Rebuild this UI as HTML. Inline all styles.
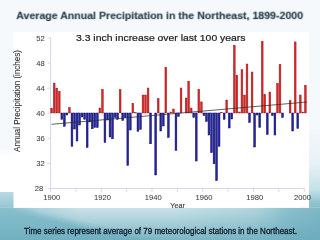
<!DOCTYPE html>
<html><head><meta charset="utf-8"><style>
html,body{margin:0;padding:0;}
body{width:320px;height:240px;overflow:hidden;position:relative;background:#f6f9fb;font-family:"Liberation Sans",sans-serif;}
svg{position:absolute;left:0;top:0;}
#wrap{position:absolute;left:0;top:0;width:320px;height:240px;will-change:transform;}
.r{fill:#da2626;stroke:#9e1616;stroke-width:0.45;}
.b{fill:#2424a4;stroke:#0c0c66;stroke-width:0.5;}
</style></head><body>
<div id="wrap">
<svg width="320" height="240" viewBox="0 0 320 240">
<defs>
<linearGradient id="gbase" x1="0" y1="207.8" x2="0" y2="240" gradientUnits="userSpaceOnUse">
<stop offset="0" stop-color="#88bfcc"/>
<stop offset="1" stop-color="#71b0c0"/>
</linearGradient>
<linearGradient id="ghl" x1="0" y1="207.8" x2="0" y2="240" gradientUnits="userSpaceOnUse">
<stop offset="0" stop-color="#ffffff" stop-opacity="0.55"/>
<stop offset="0.45" stop-color="#ffffff" stop-opacity="0.33"/>
<stop offset="1" stop-color="#ffffff" stop-opacity="0.08"/>
</linearGradient>
<linearGradient id="ghm" x1="0" y1="0" x2="320" y2="0" gradientUnits="userSpaceOnUse">
<stop offset="0" stop-color="#fff" stop-opacity="0"/>
<stop offset="0.04" stop-color="#fff" stop-opacity="0.2"/>
<stop offset="0.12" stop-color="#fff" stop-opacity="0.6"/>
<stop offset="0.25" stop-color="#fff" stop-opacity="1"/>
<stop offset="0.55" stop-color="#fff" stop-opacity="1"/>
<stop offset="0.79" stop-color="#fff" stop-opacity="0.65"/>
<stop offset="0.9" stop-color="#fff" stop-opacity="0.12"/>
<stop offset="1" stop-color="#fff" stop-opacity="0"/>
</linearGradient>
<linearGradient id="gmd" x1="42.6" y1="219.4" x2="44.4" y2="211.6" gradientUnits="userSpaceOnUse">
<stop offset="0" stop-color="#fff" stop-opacity="0"/>
<stop offset="1" stop-color="#fff" stop-opacity="1"/>
</linearGradient>
<mask id="mdiag" maskUnits="userSpaceOnUse" x="0" y="200" width="320" height="40">
<rect x="0" y="200" width="320" height="40" fill="url(#gmd)"/>
</mask>
<mask id="mhl" maskUnits="userSpaceOnUse" x="0" y="200" width="320" height="40">
<rect x="0" y="200" width="320" height="40" fill="url(#ghm)"/>
</mask>
<linearGradient id="gdark" x1="0" y1="0" x2="320" y2="0" gradientUnits="userSpaceOnUse">
<stop offset="0" stop-color="#3d8aa3" stop-opacity="0.0"/>
<stop offset="0.85" stop-color="#3d8aa3" stop-opacity="0"/>
<stop offset="1" stop-color="#3d8aa3" stop-opacity="0.12"/>
</linearGradient>
<linearGradient id="gright" x1="0" y1="130" x2="0" y2="207.8" gradientUnits="userSpaceOnUse">
<stop offset="0" stop-color="#f2f8fa"/>
<stop offset="0.42" stop-color="#e8f3f7"/>
<stop offset="0.76" stop-color="#c5e2e9"/>
<stop offset="0.94" stop-color="#8ec2cf"/>
<stop offset="1" stop-color="#88bfcc"/>
</linearGradient>
<linearGradient id="gleft" x1="0" y1="192" x2="0" y2="207.8" gradientUnits="userSpaceOnUse">
<stop offset="0" stop-color="#b9dbe3"/>
<stop offset="0.75" stop-color="#9ecbd6"/>
<stop offset="1" stop-color="#93c5d1"/>
</linearGradient>
<linearGradient id="gwhite" x1="0" y1="148" x2="0" y2="156" gradientUnits="userSpaceOnUse">
<stop offset="0" stop-color="#fff" stop-opacity="0"/>
<stop offset="1" stop-color="#fff" stop-opacity="1"/>
</linearGradient>
</defs>
<rect x="0" y="0" width="320" height="240" fill="#f6f9fb"/>
<rect x="0" y="148" width="14" height="44" fill="url(#gwhite)"/>
<rect x="300" y="130" width="20" height="77.8" fill="url(#gright)"/>
<rect x="0" y="192" width="14" height="15.8" fill="url(#gleft)"/>
<rect x="0" y="207.8" width="320" height="32.2" fill="url(#gbase)"/>
<g mask="url(#mdiag)"><rect x="0" y="207.8" width="320" height="32.2" fill="url(#ghl)" mask="url(#mhl)"/></g>
<rect x="0" y="207.8" width="320" height="32.2" fill="url(#gdark)"/>
<rect x="13.5" y="32" width="295.5" height="175.8" fill="#ffffff"/>
<g style="will-change:transform">
<text transform="translate(16.3,19.1) scale(1,0.93)" font-weight="bold" font-size="10.6" fill="#233b48" stroke="#233b48" stroke-width="0.12">Average Annual Precipitation in the Northeast, 1899-2000</text>
</g>
<g stroke="#d8d8ec" stroke-width="1">
<line x1="50.5" y1="38" x2="50.5" y2="188.5"/>
<line x1="50.5" y1="188.5" x2="304.5" y2="188.5"/>
<line x1="47.5" y1="188.50" x2="50.5" y2="188.50"/><line x1="47.5" y1="163.42" x2="50.5" y2="163.42"/><line x1="47.5" y1="138.34" x2="50.5" y2="138.34"/><line x1="47.5" y1="113.26" x2="50.5" y2="113.26"/><line x1="47.5" y1="88.18" x2="50.5" y2="88.18"/><line x1="47.5" y1="63.10" x2="50.5" y2="63.10"/><line x1="47.5" y1="38.02" x2="50.5" y2="38.02"/><line x1="50.50" y1="187.5" x2="50.50" y2="192"/><line x1="75.87" y1="187.5" x2="75.87" y2="192"/><line x1="101.24" y1="187.5" x2="101.24" y2="192"/><line x1="126.61" y1="187.5" x2="126.61" y2="192"/><line x1="151.98" y1="187.5" x2="151.98" y2="192"/><line x1="177.35" y1="187.5" x2="177.35" y2="192"/><line x1="202.72" y1="187.5" x2="202.72" y2="192"/><line x1="228.09" y1="187.5" x2="228.09" y2="192"/><line x1="253.46" y1="187.5" x2="253.46" y2="192"/><line x1="278.83" y1="187.5" x2="278.83" y2="192"/><line x1="304.20" y1="187.5" x2="304.20" y2="192"/>
</g>
<rect class="r" x="50.78" y="108.50" width="1.75" height="4.50"/>
<rect class="r" x="53.32" y="83.10" width="1.75" height="29.90"/>
<rect class="r" x="55.85" y="88.10" width="1.75" height="24.90"/>
<rect class="r" x="58.39" y="91.25" width="1.75" height="21.75"/>
<rect class="b" x="60.93" y="113.00" width="1.75" height="6.40"/>
<rect class="b" x="63.47" y="113.00" width="1.75" height="13.25"/>
<rect class="b" x="66.00" y="113.00" width="1.75" height="2.00"/>
<rect class="r" x="68.54" y="107.50" width="1.75" height="5.50"/>
<rect class="b" x="71.08" y="113.00" width="1.75" height="33.25"/>
<rect class="b" x="73.61" y="113.00" width="1.75" height="16.00"/>
<rect class="b" x="76.15" y="113.00" width="1.75" height="28.00"/>
<rect class="b" x="78.69" y="113.00" width="1.75" height="12.00"/>
<rect class="b" x="81.22" y="113.00" width="1.75" height="4.00"/>
<rect class="b" x="83.76" y="113.00" width="1.75" height="6.40"/>
<rect class="b" x="86.30" y="113.00" width="1.75" height="34.50"/>
<rect class="b" x="88.84" y="113.00" width="1.75" height="9.00"/>
<rect class="b" x="91.37" y="113.00" width="1.75" height="15.75"/>
<rect class="b" x="93.91" y="113.00" width="1.75" height="14.50"/>
<rect class="b" x="96.45" y="113.00" width="1.75" height="14.50"/>
<rect class="r" x="98.98" y="108.00" width="1.75" height="5.00"/>
<rect class="r" x="101.52" y="89.25" width="1.75" height="23.75"/>
<rect class="b" x="104.06" y="113.00" width="1.75" height="29.50"/>
<rect class="b" x="106.59" y="113.00" width="1.75" height="7.00"/>
<rect class="b" x="109.13" y="113.00" width="1.75" height="24.00"/>
<rect class="b" x="111.67" y="113.00" width="1.75" height="25.75"/>
<rect class="b" x="114.20" y="113.00" width="1.75" height="4.50"/>
<rect class="b" x="116.74" y="113.00" width="1.75" height="6.40"/>
<rect class="r" x="119.28" y="89.50" width="1.75" height="23.50"/>
<rect class="b" x="121.82" y="113.00" width="1.75" height="7.60"/>
<rect class="b" x="124.35" y="113.00" width="1.75" height="4.50"/>
<rect class="b" x="126.89" y="113.00" width="1.75" height="52.50"/>
<rect class="b" x="129.43" y="113.00" width="1.75" height="17.00"/>
<rect class="r" x="131.96" y="103.50" width="1.75" height="9.50"/>
<rect class="r" x="134.50" y="112.50" width="1.75" height="0.50"/>
<rect class="b" x="137.04" y="113.00" width="1.75" height="18.25"/>
<rect class="b" x="139.58" y="113.00" width="1.75" height="16.40"/>
<rect class="r" x="142.11" y="95.00" width="1.75" height="18.00"/>
<rect class="r" x="144.65" y="95.00" width="1.75" height="18.00"/>
<rect class="r" x="147.19" y="88.00" width="1.75" height="25.00"/>
<rect class="b" x="149.72" y="113.00" width="1.75" height="30.75"/>
<rect class="b" x="154.80" y="113.00" width="1.75" height="62.00"/>
<rect class="r" x="157.33" y="98.50" width="1.75" height="14.50"/>
<rect class="b" x="159.87" y="113.00" width="1.75" height="18.00"/>
<rect class="b" x="162.41" y="113.00" width="1.75" height="13.00"/>
<rect class="r" x="164.94" y="67.25" width="1.75" height="45.75"/>
<rect class="b" x="167.48" y="113.00" width="1.75" height="24.50"/>
<rect class="r" x="170.02" y="112.00" width="1.75" height="1.00"/>
<rect class="r" x="172.56" y="109.00" width="1.75" height="4.00"/>
<rect class="b" x="175.09" y="113.00" width="1.75" height="37.50"/>
<rect class="b" x="177.63" y="113.00" width="1.75" height="3.50"/>
<rect class="r" x="180.17" y="88.00" width="1.75" height="25.00"/>
<rect class="r" x="185.24" y="98.00" width="1.75" height="15.00"/>
<rect class="r" x="187.78" y="81.30" width="1.75" height="31.70"/>
<rect class="r" x="190.31" y="108.00" width="1.75" height="5.00"/>
<rect class="b" x="192.85" y="113.00" width="1.75" height="4.50"/>
<rect class="b" x="195.39" y="113.00" width="1.75" height="48.00"/>
<rect class="r" x="197.93" y="89.40" width="1.75" height="23.60"/>
<rect class="r" x="200.46" y="101.90" width="1.75" height="11.10"/>
<rect class="b" x="203.00" y="113.00" width="1.75" height="2.50"/>
<rect class="b" x="205.54" y="113.00" width="1.75" height="8.50"/>
<rect class="b" x="208.07" y="113.00" width="1.75" height="22.00"/>
<rect class="b" x="210.61" y="113.00" width="1.75" height="39.60"/>
<rect class="b" x="213.15" y="113.00" width="1.75" height="50.75"/>
<rect class="b" x="215.69" y="113.00" width="1.75" height="67.60"/>
<rect class="b" x="218.22" y="113.00" width="1.75" height="33.25"/>
<rect class="r" x="220.76" y="112.50" width="1.75" height="0.50"/>
<rect class="b" x="223.30" y="113.00" width="1.75" height="6.40"/>
<rect class="r" x="225.83" y="100.00" width="1.75" height="13.00"/>
<rect class="b" x="228.37" y="113.00" width="1.75" height="15.00"/>
<rect class="b" x="230.91" y="113.00" width="1.75" height="6.00"/>
<rect class="r" x="233.44" y="45.25" width="1.75" height="67.75"/>
<rect class="r" x="235.98" y="75.25" width="1.75" height="37.75"/>
<rect class="r" x="238.52" y="112.00" width="1.75" height="1.00"/>
<rect class="r" x="241.06" y="69.75" width="1.75" height="43.25"/>
<rect class="r" x="243.59" y="95.00" width="1.75" height="18.00"/>
<rect class="r" x="246.13" y="64.00" width="1.75" height="49.00"/>
<rect class="b" x="248.67" y="113.00" width="1.75" height="9.50"/>
<rect class="r" x="251.20" y="72.00" width="1.75" height="41.00"/>
<rect class="b" x="253.74" y="113.00" width="1.75" height="34.00"/>
<rect class="b" x="256.28" y="113.00" width="1.75" height="2.00"/>
<rect class="b" x="258.81" y="113.00" width="1.75" height="14.50"/>
<rect class="r" x="261.35" y="41.25" width="1.75" height="71.75"/>
<rect class="r" x="263.89" y="94.75" width="1.75" height="18.25"/>
<rect class="b" x="266.42" y="113.00" width="1.75" height="21.50"/>
<rect class="r" x="268.96" y="92.00" width="1.75" height="21.00"/>
<rect class="b" x="271.50" y="113.00" width="1.75" height="2.60"/>
<rect class="b" x="274.04" y="113.00" width="1.75" height="22.00"/>
<rect class="r" x="276.57" y="83.30" width="1.75" height="29.70"/>
<rect class="r" x="279.11" y="64.50" width="1.75" height="48.50"/>
<rect class="b" x="281.65" y="113.00" width="1.75" height="4.50"/>
<rect class="r" x="289.26" y="100.50" width="1.75" height="12.50"/>
<rect class="b" x="291.79" y="113.00" width="1.75" height="18.00"/>
<rect class="r" x="294.33" y="41.90" width="1.75" height="71.10"/>
<rect class="b" x="296.87" y="113.00" width="1.75" height="15.50"/>
<rect class="r" x="299.41" y="95.00" width="1.75" height="18.00"/>
<rect class="r" x="301.94" y="112.00" width="1.75" height="1.00"/>
<rect class="r" x="304.48" y="85.25" width="1.75" height="27.75"/>
<line x1="51.5" y1="124.3" x2="307" y2="102" stroke="#2e2e2e" stroke-width="0.75"/>
<g font-size="7.6" fill="#3c3c3c" stroke="#3c3c3c" stroke-width="0.05">
<text x="43.2" y="191.20" text-anchor="end">28</text><text x="44.8" y="166.12" text-anchor="end">32</text><text x="44.8" y="141.04" text-anchor="end">36</text><text x="44.8" y="115.96" text-anchor="end">40</text><text x="44.8" y="90.88" text-anchor="end">44</text><text x="44.8" y="65.80" text-anchor="end">48</text><text x="44.8" y="40.72" text-anchor="end">52</text>
<text x="51.80" y="199.5" text-anchor="middle">1900</text><text x="102.54" y="199.5" text-anchor="middle">1920</text><text x="153.28" y="199.5" text-anchor="middle">1940</text><text x="204.02" y="199.5" text-anchor="middle">1960</text><text x="254.76" y="199.5" text-anchor="middle">1980</text><text x="302.50" y="199.5" text-anchor="middle">2000</text>
<text x="170.3" y="207.6" font-size="7.2" stroke-width="0.15">Year</text>
</g>
<text transform="translate(76,40.8) scale(1,0.92)" font-size="10.42" fill="#1e1e1e" stroke="#1e1e1e" stroke-width="0.25">3.3 inch increase over last 100 years</text>
<text transform="translate(20.0,101) rotate(-90) scale(0.9,1)" text-anchor="middle" font-size="8.9" fill="#333" stroke="#333" stroke-width="0.1">Annual Precipitation (inches)</text>
<text transform="translate(24.1,234) scale(0.964,1.04)" font-size="8.3" fill="#0f1c2c" stroke="#0f1c2c" stroke-width="0.28">Time series represent average of 79 meteorological stations in the Northeast.</text>
</svg>
</div>
</body></html>
